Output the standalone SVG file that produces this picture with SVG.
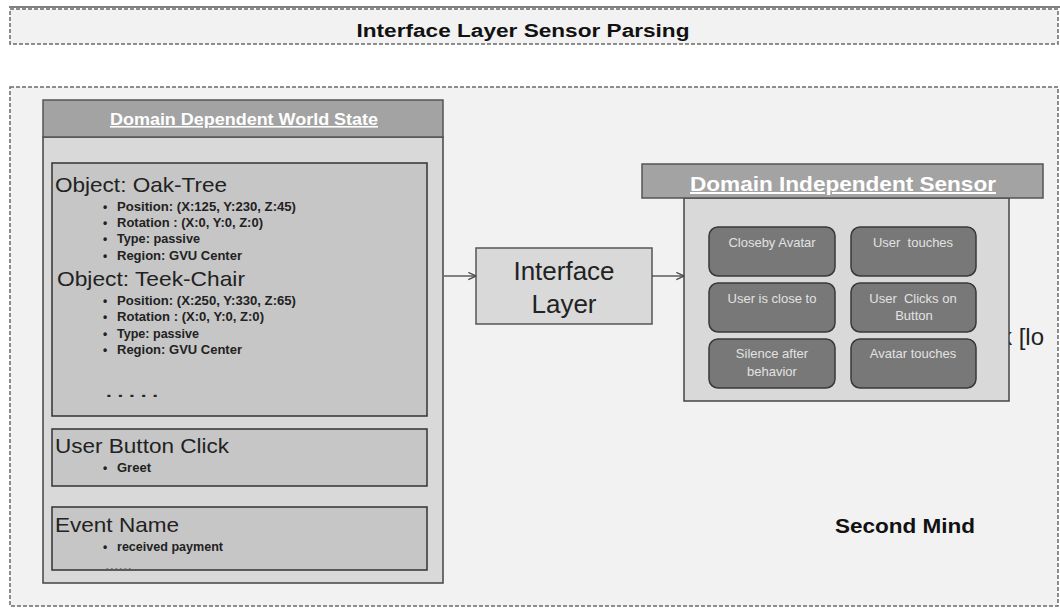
<svg xmlns="http://www.w3.org/2000/svg" width="1060" height="609" viewBox="0 0 1060 609">
<style>
  text { font-family: "Liberation Sans", Arial, sans-serif; }
  .band { fill: #f2f2f2; stroke: #6a6a6a; stroke-width: 1.5; stroke-dasharray: 4 2; }
  .hdr { fill: #a3a3a3; stroke: #555; stroke-width: 1.5; }
  .hdrtxt { fill: #ffffff; font-weight: bold; text-decoration: underline; text-anchor: middle; }
  .body { fill: #d9d9d9; stroke: #444; stroke-width: 1.5; }
  .inner { fill: #c6c6c6; stroke: #333; stroke-width: 1.5; }
  .big { font-size: 21px; fill: #222; }
  .bul { font-size: 12px; font-weight: bold; fill: #222; }
  .sens { fill: #787878; stroke: #383838; stroke-width: 1.5; }
  .stxt { font-size: 13px; fill: #e2e2e2; text-anchor: middle; }
  .conn { stroke: #444; stroke-width: 1.3; fill: none; }
</style>
<defs>
  <marker id="open" viewBox="0 0 10 10" refX="9.5" refY="5" markerWidth="9" markerHeight="9" markerUnits="userSpaceOnUse" orient="auto">
    <path d="M1,1 L9.5,5 L1,9" fill="none" stroke="#444" stroke-width="1.3"/>
  </marker>
</defs>
<rect x="0" y="0" width="1060" height="609" fill="#ffffff"/>
<g id="frame">
  <line x1="9" y1="7" x2="1060" y2="7" stroke="#555" stroke-width="1.3"/>
  <rect class="band" x="10" y="9" width="1048" height="35"/>
  <text x="523" y="37" font-size="18" font-weight="bold" text-anchor="middle" fill="#111" textLength="333" lengthAdjust="spacingAndGlyphs">Interface Layer Sensor Parsing</text>
  <rect class="band" x="10" y="87" width="1048" height="519"/>
</g>
<text x="1000" y="345" font-size="24" fill="#222">k [lo</text>
<g id="world-state">
  <rect class="body" x="43" y="137" width="400" height="446"/>
  <rect class="hdr" x="43" y="100" width="400" height="37"/>
  <text class="hdrtxt" x="244" y="125" font-size="16" textLength="268" lengthAdjust="spacingAndGlyphs">Domain Dependent World State</text>
  <g id="objects">
    <rect class="inner" x="52" y="163" width="375" height="253"/>
    <text class="big" x="55" y="192" textLength="172" lengthAdjust="spacingAndGlyphs">Object: Oak-Tree</text>
    <text class="bul" x="103" y="211">•</text>
    <text class="bul" x="117" y="211" textLength="179" lengthAdjust="spacingAndGlyphs">Position: (X:125, Y:230, Z:45)</text>
    <text class="bul" x="103" y="227">•</text>
    <text class="bul" x="117" y="227" textLength="146" lengthAdjust="spacingAndGlyphs">Rotation : (X:0, Y:0, Z:0)</text>
    <text class="bul" x="103" y="243">•</text>
    <text class="bul" x="117" y="243" textLength="83" lengthAdjust="spacingAndGlyphs">Type: passive</text>
    <text class="bul" x="103" y="260">•</text>
    <text class="bul" x="117" y="260" textLength="125" lengthAdjust="spacingAndGlyphs">Region: GVU Center</text>
    <text class="big" x="57" y="286" textLength="188" lengthAdjust="spacingAndGlyphs">Object: Teek-Chair</text>
    <text class="bul" x="103" y="305">•</text>
    <text class="bul" x="117" y="305" textLength="179" lengthAdjust="spacingAndGlyphs">Position: (X:250, Y:330, Z:65)</text>
    <text class="bul" x="103" y="321">•</text>
    <text class="bul" x="117" y="321" textLength="147" lengthAdjust="spacingAndGlyphs">Rotation : (X:0, Y:0, Z:0)</text>
    <text class="bul" x="103" y="338">•</text>
    <text class="bul" x="117" y="338" textLength="82" lengthAdjust="spacingAndGlyphs">Type: passive</text>
    <text class="bul" x="103" y="354">•</text>
    <text class="bul" x="117" y="354" textLength="125" lengthAdjust="spacingAndGlyphs">Region: GVU Center</text>
    <text x="106" y="397" font-size="15" font-weight="bold" fill="#222" textLength="52" lengthAdjust="spacingAndGlyphs">. . . . .</text>
  </g>
  <g id="user-button-click">
    <rect class="inner" x="52" y="429" width="375" height="57"/>
    <text class="big" x="55" y="453" textLength="174" lengthAdjust="spacingAndGlyphs">User Button Click</text>
    <text class="bul" x="103" y="472">•</text>
    <text class="bul" x="117" y="472" textLength="34" lengthAdjust="spacingAndGlyphs">Greet</text>
  </g>
  <g id="event-name">
    <rect class="inner" x="52" y="507" width="375" height="63"/>
    <text class="big" x="55" y="532" textLength="124" lengthAdjust="spacingAndGlyphs">Event Name</text>
    <text class="bul" x="103" y="551">•</text>
    <text class="bul" x="117" y="551" textLength="106" lengthAdjust="spacingAndGlyphs">received payment</text>
    <text x="105" y="569" font-size="9" fill="#777" textLength="27" lengthAdjust="spacingAndGlyphs">......</text>
  </g>
</g>
<g id="interface-layer">
  <rect x="476" y="248" width="176" height="76" fill="#d9d9d9" stroke="#555" stroke-width="1.5"/>
  <text x="564" y="280" font-size="26" fill="#222" text-anchor="middle">Interface</text>
  <text x="564" y="313" font-size="26" fill="#222" text-anchor="middle">Layer</text>
</g>
<g id="domain-independent-sensor">
  <rect class="body" x="684" y="198" width="325" height="203" stroke="#555"/>
  <rect class="hdr" x="642" y="164" width="401" height="34"/>
  <text class="hdrtxt" x="843" y="191" font-size="20" textLength="306" lengthAdjust="spacingAndGlyphs">Domain Independent Sensor</text>
  <g id="s1"><rect class="sens" x="709" y="227" width="126" height="49" rx="9"/><text class="stxt" x="772" y="247">Closeby Avatar</text></g>
  <g id="s2"><rect class="sens" x="851" y="227" width="125" height="49" rx="9"/><text class="stxt" x="913" y="247" xml:space="preserve">User  touches</text></g>
  <g id="s3"><rect class="sens" x="709" y="283" width="126" height="49" rx="9"/><text class="stxt" x="772" y="303">User is close to</text></g>
  <g id="s4"><rect class="sens" x="851" y="283" width="125" height="49" rx="9"/><text class="stxt" x="913" y="303" xml:space="preserve">User  Clicks on</text><text class="stxt" x="914" y="320">Button</text></g>
  <g id="s5"><rect class="sens" x="709" y="339" width="126" height="49" rx="9"/><text class="stxt" x="772" y="358">Silence after</text><text class="stxt" x="772" y="376">behavior</text></g>
  <g id="s6"><rect class="sens" x="851" y="339" width="125" height="49" rx="9"/><text class="stxt" x="913" y="358">Avatar touches</text></g>
</g>
<g id="second-mind">
  <text x="835" y="533" font-size="20" font-weight="bold" fill="#111" textLength="140" lengthAdjust="spacingAndGlyphs">Second Mind</text>
</g>
<g id="connectors">
  <line class="conn" x1="444" y1="276" x2="476" y2="276" marker-end="url(#open)"/>
  <line class="conn" x1="652" y1="276" x2="684" y2="276" marker-end="url(#open)"/>
</g>
</svg>
